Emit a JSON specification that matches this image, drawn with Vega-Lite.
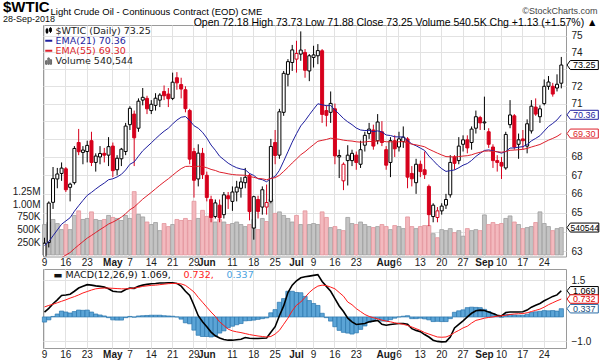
{
"$schema": "https://vega.github.io/schema/vega-lite/v6.json",
"padding": {"left": 3, "top": 0, "right": 1.5, "bottom": 0},
"title": {"text": "$WTIC", "subtitle": "28-Sep-2018", "anchor": "start", "frame": "group", "dx": -40, "dy": 18.5, "offset": 0, "font": "Liberation Sans", "fontSize": 15, "fontWeight": "bold", "color": "#000", "subtitleFont": "Liberation Sans", "subtitleFontSize": 9, "subtitleColor": "#111", "subtitlePadding": 0},
"spacing": 12,
"bounds": "flush",
"resolve": {"scale": {"color": "independent", "stroke": "independent", "fill": "independent", "strokeWidth": "independent", "y": "independent"}, "legend": {"color": "independent", "stroke": "independent", "fill": "independent", "strokeWidth": "independent"}},
"datasets": {
"px": [
{"d":"2018-04-09","o":62.10,"h":63.70,"l":61.80,"c":63.42,"v":600000,"e21":63.30,"e55":62.05,"m":0.20,"s":0.41,"hg":-0.21},
{"d":"2018-04-10","o":63.45,"h":65.60,"l":63.20,"c":65.51,"v":640000,"e21":63.50,"e55":62.17,"m":0.35,"s":0.47,"hg":-0.12},
{"d":"2018-04-11","o":65.55,"h":67.45,"l":65.20,"c":66.82,"v":700000,"e21":63.80,"e55":62.34,"m":0.54,"s":0.52,"hg":0.02},
{"d":"2018-04-12","o":66.80,"h":67.40,"l":66.30,"c":67.07,"v":620000,"e21":64.10,"e55":62.51,"m":0.70,"s":0.58,"hg":0.12},
{"d":"2018-04-13","o":67.10,"h":67.70,"l":66.70,"c":67.39,"v":500000,"e21":64.40,"e55":62.68,"m":0.88,"s":0.64,"hg":0.24},
{"d":"2018-04-16","o":67.35,"h":67.45,"l":66.10,"c":66.22,"v":600000,"e21":64.57,"e55":62.81,"m":0.90,"s":0.70,"hg":0.20},
{"d":"2018-04-17","o":66.35,"h":66.60,"l":65.60,"c":66.52,"v":500000,"e21":64.74,"e55":62.94,"m":0.93,"s":0.77,"hg":0.16},
{"d":"2018-04-18","o":66.60,"h":68.60,"l":66.50,"c":68.47,"v":780000,"e21":65.08,"e55":63.14,"m":1.05,"s":0.83,"hg":0.22},
{"d":"2018-04-19","o":68.80,"h":69.56,"l":68.10,"c":68.29,"v":870000,"e21":65.37,"e55":63.32,"m":1.18,"s":0.90,"hg":0.28},
{"d":"2018-04-20","o":68.25,"h":68.60,"l":67.60,"c":68.38,"v":700000,"e21":65.65,"e55":63.50,"m":1.25,"s":0.98,"hg":0.27},
{"d":"2018-04-23","o":68.30,"h":68.90,"l":67.70,"c":68.64,"v":720000,"e21":65.92,"e55":63.68,"m":1.32,"s":1.04,"hg":0.28},
{"d":"2018-04-24","o":68.90,"h":69.40,"l":67.50,"c":67.70,"v":850000,"e21":66.08,"e55":63.82,"m":1.30,"s":1.10,"hg":0.20},
{"d":"2018-04-25","o":67.70,"h":68.20,"l":67.20,"c":68.05,"v":700000,"e21":66.26,"e55":63.97,"m":1.27,"s":1.15,"hg":0.12},
{"d":"2018-04-26","o":68.00,"h":68.60,"l":67.60,"c":68.19,"v":680000,"e21":66.43,"e55":64.12,"m":1.25,"s":1.17,"hg":0.08},
{"d":"2018-04-27","o":68.20,"h":68.50,"l":67.70,"c":68.10,"v":700000,"e21":66.58,"e55":64.26,"m":1.22,"s":1.18,"hg":0.04},
{"d":"2018-04-30","o":68.10,"h":69.10,"l":67.50,"c":68.57,"v":780000,"e21":66.76,"e55":64.41,"m":1.15,"s":1.18,"hg":-0.03},
{"d":"2018-05-01","o":68.60,"h":68.80,"l":66.90,"c":67.25,"v":740000,"e21":66.81,"e55":64.51,"m":1.05,"s":1.17,"hg":-0.12},
{"d":"2018-05-02","o":67.30,"h":68.10,"l":67.00,"c":67.93,"v":720000,"e21":66.91,"e55":64.63,"m":1.03,"s":1.16,"hg":-0.13},
{"d":"2018-05-03","o":67.90,"h":68.50,"l":67.50,"c":68.43,"v":680000,"e21":67.05,"e55":64.77,"m":1.02,"s":1.15,"hg":-0.13},
{"d":"2018-05-04","o":68.30,"h":69.90,"l":68.10,"c":69.72,"v":780000,"e21":67.29,"e55":64.95,"m":1.12,"s":1.15,"hg":-0.03},
{"d":"2018-05-07","o":69.80,"h":70.85,"l":69.50,"c":70.73,"v":720000,"e21":67.60,"e55":65.16,"m":1.18,"s":1.16,"hg":0.02},
{"d":"2018-05-08","o":70.40,"h":70.60,"l":67.50,"c":69.06,"v":1250000,"e21":67.73,"e55":65.30,"m":1.17,"s":1.18,"hg":-0.01},
{"d":"2018-05-09","o":69.60,"h":71.30,"l":69.40,"c":71.14,"v":800000,"e21":68.04,"e55":65.51,"m":1.25,"s":1.21,"hg":0.04},
{"d":"2018-05-10","o":71.20,"h":71.90,"l":70.90,"c":71.36,"v":750000,"e21":68.34,"e55":65.72,"m":1.30,"s":1.25,"hg":0.05},
{"d":"2018-05-11","o":71.30,"h":71.45,"l":70.40,"c":70.70,"v":650000,"e21":68.56,"e55":65.90,"m":1.33,"s":1.27,"hg":0.06},
{"d":"2018-05-14","o":70.60,"h":71.20,"l":70.40,"c":70.96,"v":600000,"e21":68.78,"e55":66.08,"m":1.36,"s":1.29,"hg":0.07},
{"d":"2018-05-15","o":70.90,"h":71.60,"l":70.60,"c":71.31,"v":640000,"e21":69.01,"e55":66.27,"m":1.37,"s":1.30,"hg":0.07},
{"d":"2018-05-16","o":71.20,"h":71.60,"l":70.80,"c":71.49,"v":480000,"e21":69.23,"e55":66.46,"m":1.39,"s":1.32,"hg":0.07},
{"d":"2018-05-17","o":71.70,"h":72.05,"l":71.20,"c":71.45,"v":620000,"e21":69.43,"e55":66.64,"m":1.39,"s":1.34,"hg":0.05},
{"d":"2018-05-18","o":71.55,"h":71.90,"l":70.80,"c":71.28,"v":560000,"e21":69.60,"e55":66.81,"m":1.40,"s":1.36,"hg":0.04},
{"d":"2018-05-21","o":71.30,"h":72.80,"l":71.20,"c":72.24,"v":600000,"e21":69.84,"e55":67.00,"m":1.40,"s":1.37,"hg":0.03},
{"d":"2018-05-22","o":72.50,"h":72.83,"l":71.80,"c":72.20,"v":700000,"e21":70.06,"e55":67.19,"m":1.37,"s":1.37,"hg":0.00},
{"d":"2018-05-23","o":72.10,"h":72.50,"l":71.30,"c":71.84,"v":680000,"e21":70.22,"e55":67.36,"m":1.26,"s":1.35,"hg":-0.09},
{"d":"2018-05-24","o":71.80,"h":72.00,"l":70.50,"c":70.71,"v":720000,"e21":70.26,"e55":67.48,"m":1.05,"s":1.29,"hg":-0.24},
{"d":"2018-05-25","o":70.60,"h":70.70,"l":67.60,"c":67.88,"v":680000,"e21":70.04,"e55":67.49,"m":0.88,"s":1.16,"hg":-0.28},
{"d":"2018-05-29","o":68.30,"h":68.50,"l":65.80,"c":66.73,"v":1060000,"e21":69.74,"e55":67.46,"m":0.48,"s":1.02,"hg":-0.54},
{"d":"2018-05-30","o":66.80,"h":68.70,"l":66.40,"c":68.21,"v":720000,"e21":69.60,"e55":67.49,"m":0.05,"s":0.80,"hg":-0.75},
{"d":"2018-05-31","o":68.20,"h":68.50,"l":66.80,"c":67.04,"v":880000,"e21":69.37,"e55":67.47,"m":-0.20,"s":0.60,"hg":-0.80},
{"d":"2018-06-01","o":67.00,"h":67.20,"l":65.60,"c":65.81,"v":760000,"e21":69.05,"e55":67.41,"m":-0.40,"s":0.40,"hg":-0.80},
{"d":"2018-06-04","o":65.70,"h":65.90,"l":64.50,"c":64.75,"v":800000,"e21":68.66,"e55":67.32,"m":-0.62,"s":0.20,"hg":-0.82},
{"d":"2018-06-05","o":64.80,"h":65.70,"l":64.70,"c":65.52,"v":650000,"e21":68.37,"e55":67.26,"m":-0.77,"s":0.02,"hg":-0.79},
{"d":"2018-06-06","o":65.40,"h":65.70,"l":64.50,"c":64.73,"v":700000,"e21":68.04,"e55":67.17,"m":-0.86,"s":-0.20,"hg":-0.66},
{"d":"2018-06-07","o":64.90,"h":66.10,"l":64.70,"c":65.95,"v":650000,"e21":67.85,"e55":67.13,"m":-0.92,"s":-0.35,"hg":-0.57},
{"d":"2018-06-08","o":65.90,"h":66.10,"l":65.20,"c":65.74,"v":600000,"e21":67.66,"e55":67.08,"m":-0.95,"s":-0.50,"hg":-0.45},
{"d":"2018-06-11","o":65.60,"h":66.40,"l":65.10,"c":66.10,"v":620000,"e21":67.52,"e55":67.04,"m":-0.95,"s":-0.57,"hg":-0.38},
{"d":"2018-06-12","o":66.10,"h":66.70,"l":65.60,"c":66.36,"v":650000,"e21":67.41,"e55":67.02,"m":-0.93,"s":-0.61,"hg":-0.32},
{"d":"2018-06-13","o":66.30,"h":66.90,"l":65.80,"c":66.64,"v":600000,"e21":67.34,"e55":67.01,"m":-0.91,"s":-0.64,"hg":-0.27},
{"d":"2018-06-14","o":66.60,"h":67.40,"l":66.30,"c":66.89,"v":560000,"e21":67.30,"e55":67.00,"m":-0.84,"s":-0.68,"hg":-0.16},
{"d":"2018-06-15","o":67.00,"h":67.10,"l":64.60,"c":65.06,"v":600000,"e21":67.10,"e55":66.93,"m":-0.87,"s":-0.72,"hg":-0.15},
{"d":"2018-06-18","o":64.20,"h":65.90,"l":63.60,"c":65.85,"v":700000,"e21":66.99,"e55":66.89,"m":-0.88,"s":-0.75,"hg":-0.13},
{"d":"2018-06-19","o":65.70,"h":65.90,"l":64.70,"c":65.07,"v":500000,"e21":66.81,"e55":66.83,"m":-0.88,"s":-0.78,"hg":-0.10},
{"d":"2018-06-20","o":65.30,"h":66.40,"l":64.90,"c":66.22,"v":720000,"e21":66.76,"e55":66.81,"m":-0.87,"s":-0.80,"hg":-0.07},
{"d":"2018-06-21","o":65.30,"h":66.50,"l":64.90,"c":65.54,"v":660000,"e21":66.65,"e55":66.76,"m":-0.86,"s":-0.82,"hg":-0.04},
{"d":"2018-06-22","o":65.60,"h":69.00,"l":65.50,"c":68.58,"v":1100000,"e21":66.83,"e55":66.83,"m":-0.63,"s":-0.80,"hg":0.17},
{"d":"2018-06-25","o":68.80,"h":69.50,"l":67.60,"c":68.08,"v":820000,"e21":66.94,"e55":66.87,"m":-0.40,"s":-0.70,"hg":0.30},
{"d":"2018-06-26","o":68.10,"h":70.70,"l":67.90,"c":70.53,"v":850000,"e21":67.27,"e55":67.00,"m":0.05,"s":-0.55,"hg":0.60},
{"d":"2018-06-27","o":70.50,"h":72.90,"l":70.30,"c":72.76,"v":780000,"e21":67.77,"e55":67.21,"m":0.45,"s":-0.30,"hg":0.75},
{"d":"2018-06-28","o":72.70,"h":73.60,"l":72.00,"c":73.45,"v":720000,"e21":68.29,"e55":67.43,"m":1.00,"s":-0.05,"hg":1.05},
{"d":"2018-06-29","o":73.40,"h":74.45,"l":72.90,"c":74.15,"v":650000,"e21":68.82,"e55":67.67,"m":1.30,"s":0.25,"hg":1.05},
{"d":"2018-07-02","o":73.60,"h":74.70,"l":72.80,"c":73.94,"v":780000,"e21":69.29,"e55":67.89,"m":1.48,"s":0.48,"hg":1.00},
{"d":"2018-07-03","o":73.90,"h":75.27,"l":73.50,"c":74.14,"v":600000,"e21":69.73,"e55":68.12,"m":1.60,"s":0.61,"hg":0.99},
{"d":"2018-07-05","o":74.00,"h":74.20,"l":72.50,"c":72.94,"v":870000,"e21":70.02,"e55":68.29,"m":1.64,"s":0.80,"hg":0.84},
{"d":"2018-07-06","o":72.90,"h":73.90,"l":72.30,"c":73.80,"v":600000,"e21":70.36,"e55":68.49,"m":1.67,"s":1.00,"hg":0.67},
{"d":"2018-07-09","o":73.70,"h":74.40,"l":73.10,"c":73.85,"v":620000,"e21":70.68,"e55":68.68,"m":1.70,"s":1.15,"hg":0.55},
{"d":"2018-07-10","o":73.80,"h":74.50,"l":73.30,"c":74.11,"v":600000,"e21":70.99,"e55":68.87,"m":1.73,"s":1.26,"hg":0.47},
{"d":"2018-07-11","o":74.10,"h":74.20,"l":69.90,"c":70.38,"v":850000,"e21":70.93,"e55":68.92,"m":1.45,"s":1.30,"hg":0.15},
{"d":"2018-07-12","o":70.60,"h":70.90,"l":69.70,"c":70.33,"v":740000,"e21":70.88,"e55":68.97,"m":1.25,"s":1.28,"hg":-0.03},
{"d":"2018-07-13","o":70.50,"h":71.70,"l":69.90,"c":71.01,"v":540000,"e21":70.89,"e55":69.04,"m":1.05,"s":1.22,"hg":-0.17},
{"d":"2018-07-16","o":70.70,"h":71.00,"l":67.60,"c":68.06,"v":560000,"e21":70.63,"e55":69.01,"m":0.75,"s":1.15,"hg":-0.40},
{"d":"2018-07-17","o":68.00,"h":68.40,"l":66.85,"c":68.08,"v":500000,"e21":70.40,"e55":68.98,"m":0.45,"s":1.00,"hg":-0.55},
{"d":"2018-07-18","o":66.70,"h":67.70,"l":66.20,"c":67.60,"v":480000,"e21":70.15,"e55":68.93,"m":0.22,"s":0.85,"hg":-0.63},
{"d":"2018-07-19","o":67.80,"h":68.65,"l":66.45,"c":68.10,"v":740000,"e21":69.96,"e55":68.90,"m":-0.05,"s":0.61,"hg":-0.66},
{"d":"2018-07-20","o":67.80,"h":68.40,"l":67.50,"c":68.20,"v":620000,"e21":69.80,"e55":68.88,"m":-0.20,"s":0.50,"hg":-0.70},
{"d":"2018-07-23","o":68.10,"h":68.30,"l":67.30,"c":67.70,"v":600000,"e21":69.61,"e55":68.84,"m":-0.31,"s":0.34,"hg":-0.65},
{"d":"2018-07-24","o":67.60,"h":68.90,"l":67.40,"c":68.40,"v":650000,"e21":69.50,"e55":68.82,"m":-0.29,"s":0.22,"hg":-0.51},
{"d":"2018-07-25","o":68.65,"h":69.40,"l":68.30,"c":69.20,"v":600000,"e21":69.47,"e55":68.83,"m":-0.27,"s":0.10,"hg":-0.37},
{"d":"2018-07-26","o":69.30,"h":69.90,"l":69.00,"c":69.55,"v":560000,"e21":69.48,"e55":68.86,"m":-0.20,"s":0.02,"hg":-0.22},
{"d":"2018-07-27","o":69.50,"h":69.80,"l":68.40,"c":68.60,"v":540000,"e21":69.40,"e55":68.85,"m":-0.17,"s":-0.03,"hg":-0.14},
{"d":"2018-07-30","o":68.90,"h":70.40,"l":68.70,"c":69.95,"v":560000,"e21":69.45,"e55":68.89,"m":-0.14,"s":-0.08,"hg":-0.06},
{"d":"2018-07-31","o":69.40,"h":70.00,"l":68.60,"c":68.80,"v":600000,"e21":69.39,"e55":68.89,"m":-0.30,"s":-0.13,"hg":-0.17},
{"d":"2018-08-01","o":68.40,"h":68.60,"l":67.30,"c":67.55,"v":560000,"e21":69.22,"e55":68.84,"m":-0.34,"s":-0.17,"hg":-0.17},
{"d":"2018-08-02","o":67.70,"h":69.10,"l":66.90,"c":68.90,"v":500000,"e21":69.19,"e55":68.84,"m":-0.31,"s":-0.20,"hg":-0.11},
{"d":"2018-08-03","o":68.90,"h":69.20,"l":68.00,"c":68.45,"v":580000,"e21":69.12,"e55":68.83,"m":-0.29,"s":-0.24,"hg":-0.05},
{"d":"2018-08-06","o":68.55,"h":69.40,"l":68.30,"c":69.00,"v":560000,"e21":69.11,"e55":68.84,"m":-0.27,"s":-0.27,"hg":0.00},
{"d":"2018-08-07","o":68.85,"h":69.70,"l":68.50,"c":69.10,"v":520000,"e21":69.11,"e55":68.85,"m":-0.27,"s":-0.30,"hg":0.03},
{"d":"2018-08-08","o":69.00,"h":69.10,"l":66.30,"c":66.90,"v":750000,"e21":68.91,"e55":68.78,"m":-0.30,"s":-0.35,"hg":0.05},
{"d":"2018-08-09","o":67.10,"h":67.50,"l":66.40,"c":66.81,"v":560000,"e21":68.72,"e55":68.71,"m":-0.48,"s":-0.41,"hg":-0.07},
{"d":"2018-08-10","o":66.60,"h":67.90,"l":66.00,"c":67.60,"v":520000,"e21":68.62,"e55":68.67,"m":-0.55,"s":-0.48,"hg":-0.07},
{"d":"2018-08-13","o":67.60,"h":67.80,"l":66.90,"c":67.20,"v":560000,"e21":68.49,"e55":68.62,"m":-0.60,"s":-0.55,"hg":-0.05},
{"d":"2018-08-14","o":67.30,"h":68.30,"l":66.80,"c":67.04,"v":580000,"e21":68.36,"e55":68.56,"m":-0.72,"s":-0.64,"hg":-0.08},
{"d":"2018-08-15","o":66.40,"h":66.50,"l":64.30,"c":64.90,"v":580000,"e21":68.05,"e55":68.43,"m":-0.82,"s":-0.70,"hg":-0.12},
{"d":"2018-08-16","o":64.80,"h":65.50,"l":64.50,"c":65.40,"v":420000,"e21":67.81,"e55":68.32,"m":-0.95,"s":-0.76,"hg":-0.19},
{"d":"2018-08-17","o":64.75,"h":65.30,"l":64.50,"c":65.10,"v":340000,"e21":67.56,"e55":68.21,"m":-1.00,"s":-0.82,"hg":-0.18},
{"d":"2018-08-20","o":65.10,"h":65.50,"l":64.90,"c":65.35,"v":500000,"e21":67.36,"e55":68.11,"m":-1.02,"s":-0.83,"hg":-0.19},
{"d":"2018-08-21","o":65.40,"h":66.00,"l":65.20,"c":65.70,"v":480000,"e21":67.21,"e55":68.02,"m":-1.01,"s":-0.82,"hg":-0.19},
{"d":"2018-08-22","o":65.95,"h":68.10,"l":65.80,"c":67.70,"v":520000,"e21":67.25,"e55":68.01,"m":-0.82,"s":-0.75,"hg":-0.07},
{"d":"2018-08-23","o":68.00,"h":68.10,"l":67.30,"c":67.65,"v":440000,"e21":67.29,"e55":68.00,"m":-0.45,"s":-0.64,"hg":0.19},
{"d":"2018-08-24","o":67.80,"h":69.10,"l":67.60,"c":68.60,"v":480000,"e21":67.41,"e55":68.02,"m":-0.30,"s":-0.55,"hg":0.25},
{"d":"2018-08-27","o":68.70,"h":69.20,"l":68.30,"c":68.95,"v":370000,"e21":67.55,"e55":68.05,"m":-0.16,"s":-0.45,"hg":0.29},
{"d":"2018-08-28","o":68.95,"h":69.20,"l":68.20,"c":68.50,"v":520000,"e21":67.64,"e55":68.07,"m":0.00,"s":-0.38,"hg":0.38},
{"d":"2018-08-29","o":68.80,"h":69.70,"l":68.40,"c":69.55,"v":480000,"e21":67.81,"e55":68.12,"m":0.15,"s":-0.25,"hg":0.40},
{"d":"2018-08-30","o":69.60,"h":70.60,"l":69.30,"c":70.25,"v":500000,"e21":68.03,"e55":68.20,"m":0.25,"s":-0.14,"hg":0.39},
{"d":"2018-08-31","o":70.20,"h":70.30,"l":69.50,"c":69.90,"v":480000,"e21":68.20,"e55":68.26,"m":0.28,"s":-0.10,"hg":0.38},
{"d":"2018-09-04","o":69.90,"h":71.40,"l":69.50,"c":69.95,"v":790000,"e21":68.36,"e55":68.32,"m":0.26,"s":-0.05,"hg":0.31},
{"d":"2018-09-05","o":69.40,"h":69.60,"l":68.50,"c":68.70,"v":600000,"e21":68.39,"e55":68.33,"m":0.20,"s":-0.02,"hg":0.22},
{"d":"2018-09-06","o":68.55,"h":68.70,"l":67.40,"c":67.80,"v":640000,"e21":68.34,"e55":68.31,"m":0.14,"s":0.00,"hg":0.14},
{"d":"2018-09-07","o":67.80,"h":68.10,"l":67.20,"c":67.70,"v":600000,"e21":68.28,"e55":68.29,"m":0.07,"s":0.03,"hg":0.04},
{"d":"2018-09-10","o":67.70,"h":68.00,"l":66.80,"c":67.50,"v":620000,"e21":68.21,"e55":68.26,"m":0.04,"s":0.05,"hg":-0.01},
{"d":"2018-09-11","o":67.40,"h":69.40,"l":67.30,"c":69.25,"v":720000,"e21":68.30,"e55":68.30,"m":0.18,"s":0.07,"hg":0.11},
{"d":"2018-09-12","o":69.80,"h":71.20,"l":69.60,"c":70.35,"v":770000,"e21":68.49,"e55":68.37,"m":0.20,"s":0.10,"hg":0.10},
{"d":"2018-09-13","o":70.30,"h":70.40,"l":68.40,"c":68.55,"v":650000,"e21":68.50,"e55":68.38,"m":0.20,"s":0.12,"hg":0.08},
{"d":"2018-09-14","o":68.70,"h":69.30,"l":67.90,"c":68.95,"v":600000,"e21":68.54,"e55":68.40,"m":0.20,"s":0.13,"hg":0.07},
{"d":"2018-09-17","o":69.00,"h":69.50,"l":68.40,"c":68.90,"v":520000,"e21":68.57,"e55":68.42,"m":0.21,"s":0.14,"hg":0.07},
{"d":"2018-09-18","o":68.60,"h":70.10,"l":68.20,"c":69.85,"v":540000,"e21":68.69,"e55":68.47,"m":0.28,"s":0.17,"hg":0.11},
{"d":"2018-09-19","o":69.45,"h":71.20,"l":69.30,"c":70.85,"v":560000,"e21":68.89,"e55":68.55,"m":0.40,"s":0.22,"hg":0.18},
{"d":"2018-09-20","o":70.80,"h":71.30,"l":70.30,"c":70.40,"v":640000,"e21":69.03,"e55":68.62,"m":0.48,"s":0.27,"hg":0.21},
{"d":"2018-09-21","o":70.25,"h":70.90,"l":69.90,"c":70.70,"v":850000,"e21":69.18,"e55":68.69,"m":0.55,"s":0.32,"hg":0.23},
{"d":"2018-09-24","o":71.00,"h":72.40,"l":70.90,"c":72.00,"v":620000,"e21":69.44,"e55":68.81,"m":0.66,"s":0.40,"hg":0.26},
{"d":"2018-09-25","o":72.00,"h":72.60,"l":71.80,"c":72.25,"v":560000,"e21":69.70,"e55":68.93,"m":0.75,"s":0.50,"hg":0.25},
{"d":"2018-09-26","o":72.00,"h":72.20,"l":71.40,"c":71.55,"v":480000,"e21":69.87,"e55":69.03,"m":0.84,"s":0.58,"hg":0.26},
{"d":"2018-09-27","o":71.90,"h":72.70,"l":71.70,"c":72.12,"v":520000,"e21":70.07,"e55":69.14,"m":0.90,"s":0.66,"hg":0.24},
{"d":"2018-09-28","o":72.18,"h":73.73,"l":71.88,"c":73.25,"v":540544,"e21":70.36,"e55":69.30,"m":1.069,"s":0.732,"hg":0.337}
],
"tagsP": [
{"d":"2018-09-28","k":"wtic","val":73.25,"t":"73.25"},
{"d":"2018-09-28","k":"e21","val":70.36,"t":"70.36"},
{"d":"2018-09-28","k":"e55","val":69.30,"t":"69.30"}
],
"tagsV": [
{"d":"2018-09-28","v":540544,"t":"540544"}
],
"tagsM": [
{"d":"2018-09-28","k":"m","val":1.069,"t":"1.069"},
{"d":"2018-09-28","k":"s","val":0.732,"t":"0.732"},
{"d":"2018-09-28","k":"hg","val":0.337,"t":"0.337"}
]
},
"vconcat": [
{
"width": 523,
"height": 231.5,
"data": {"name": "px"},
"transform": [{"window": [{"op": "lag", "field": "c", "as": "pc"}], "sort": [{"field": "d"}]}],
"encoding": {
"x": {"field": "d", "type": "ordinal", "sort": "ascending",
"scale": {"type": "band", "paddingInner": 0.3, "paddingOuter": 0.375, "align": 0},
"axis": {"title": null, "values": ["2018-04-09","2018-04-16","2018-04-23","2018-05-01","2018-05-07","2018-05-14","2018-05-21","2018-05-29","2018-06-01","2018-06-11","2018-06-18","2018-06-25","2018-07-02","2018-07-09","2018-07-16","2018-07-23","2018-08-01","2018-08-06","2018-08-13","2018-08-20","2018-08-27","2018-09-04","2018-09-10","2018-09-17","2018-09-24"],
"labelExpr": "indexof(['2018-05-01','2018-06-01','2018-07-02','2018-08-01','2018-09-04'], datum.value) >= 0 ? ['','Jan','Feb','Mar','Apr','May','Jun','Jul','Aug','Sep'][toNumber(substring(datum.value,5,7))] : '' + toNumber(substring(datum.value,8,10))",
"labelFontWeight": {"condition": {"test": "indexof(['2018-05-01','2018-06-01','2018-07-02','2018-08-01','2018-09-04'], datum.value) >= 0", "value": "bold"}, "value": "normal"},
"labelAngle": 0, "labelOverlap": false, "labelBound": false, "labelFlush": false, "labelPadding": 1, "bandPosition": 0.5, "grid": true, "ticks": false, "domain": false}}
},
"layer": [
{
"layer": [
{"mark": {"type": "bar", "width": {"band": 1.3}, "strokeWidth": 0.8},
"encoding": {
"y": {"field": "v", "type": "quantitative", "scale": {"domain": [-31000, 4540000], "nice": false, "zero": false},
"axis": {"orient": "left", "values": [250000, 500000, 750000, 1000000, 1250000], "grid": false, "ticks": false, "domain": false, "labelPadding": 3,
"labelExpr": "datum.value >= 1000000 ? format(datum.value / 1000000, '.2f') + 'M' : format(datum.value / 1000, 'd') + 'K'",
"title": "Light Crude Oil - Continuous Contract (EOD)  CME", "titleAngle": 0, "titleAlign": "left", "titleBaseline": "alphabetic", "titleX": 7, "titleY": -11, "titleFont": "Liberation Sans", "titleFontSize": 9.5, "titleFontWeight": "normal", "titleColor": "#000"}},
"y2": {"datum": 0},
"fill": {"condition": {"test": "datum.c < datum.pc", "value": "#f3b9be"}, "value": "#c4c4c4"},
"stroke": {"condition": {"test": "datum.c < datum.pc", "value": "#e3939a"}, "value": "#9e9e9e"}
}},
{"data": {"name": "tagsV"},
"mark": {"type": "point", "shape": "M1.15,0L1.8,-0.9L7.5,-0.9L7.5,0.9L1.8,0.9Z", "size": 100, "filled": true, "fill": "#ffffff", "stroke": "#000000", "strokeWidth": 1, "opacity": 1},
"encoding": {"y": {"field": "v", "type": "quantitative"}}},
{"data": {"name": "tagsV"},
"mark": {"type": "text", "dx": 23.5, "align": "center", "baseline": "middle", "font": "Liberation Sans", "fontSize": 8.5, "color": "#000"},
"encoding": {"y": {"field": "v", "type": "quantitative"}, "text": {"field": "t"}}}
]
},
{
"layer": [
{"mark": {"type": "rule", "clip": true, "strokeWidth": 1},
"encoding": {
"y": {"field": "l", "type": "quantitative", "scale": {"type": "log", "domain": [62.74, 75.66], "nice": false, "zero": false},
"axis": {"orient": "right", "values": [63,64,65,66,67,68,69,70,71,72,73,74,75], "format": "d", "labelExpr": "indexof([64, 69, 70, 73], datum.value) >= 0 ? '' : datum.label", "grid": true, "ticks": false, "domain": false, "labelPadding": 5,
"title": "©StockCharts.com", "titleAngle": 0, "titleAlign": "right", "titleBaseline": "alphabetic", "titleX": 31, "titleY": -12, "titleFont": "Liberation Sans", "titleFontSize": 9, "titleFontWeight": "normal", "titleColor": "#444"}},
"y2": {"field": "h"},
"stroke": {"condition": {"test": "datum.c < datum.pc", "value": "#d6001c"}, "value": "#000000"}
}},
{"mark": {"type": "bar", "clip": true, "strokeWidth": 1},
"encoding": {
"y": {"field": "o", "type": "quantitative"},
"y2": {"field": "c"},
"fill": {"condition": [{"test": "datum.c >= datum.o", "value": "#ffffff"}, {"test": "datum.c < datum.pc", "value": "#d6001c"}], "value": "#000000"},
"stroke": {"condition": {"test": "datum.c < datum.pc", "value": "#d6001c"}, "value": "#000000"}
}},
{"transform": [{"fold": ["e21", "e55"], "as": ["k", "val"]}],
"mark": {"type": "line", "clip": true, "strokeWidth": 1},
"encoding": {
"y": {"field": "val", "type": "quantitative"},
"color": {"field": "k", "type": "nominal",
"scale": {"domain": ["wtic", "e21", "e55", "vol"], "range": ["#000000", "#1e1e9e", "#dd1f2b", "#666666"]},
"legend": {"orient": "top-left", "direction": "vertical", "offset": 1, "padding": 0, "title": null, "symbolType": "stroke", "symbolSize": 49, "symbolStrokeWidth": 2, "labelFont": "DejaVu Sans", "labelFontSize": 9.5, "labelOffset": 2, "rowPadding": -2,
"labelExpr": "datum.value === 'wtic' ? '$WTIC (Daily) 73.25' : datum.value === 'e21' ? 'EMA(21) 70.36' : datum.value === 'e55' ? 'EMA(55) 69.30' : 'Volume 540,544'",
"encode": {
"labels": {"update": {"fill": {"signal": "datum.value === 'e21' ? '#1e1e9e' : datum.value === 'e55' ? '#dd1f2b' : '#222222'"}}},
"symbols": {"update": {
"shape": {"signal": "datum.value === 'wtic' ? 'M-0.75,-0.4H-0.25V0.5H-0.75Z M-0.5,-0.8V0.9 M0.25,-0.7H0.75V0.2H0.25Z M0.5,-1V0.6' : datum.value === 'vol' ? 'M-0.9,1V0H-0.5V1Z M-0.25,1V-0.8H0.15V1Z M0.4,1V-0.3H0.8V1Z' : 'stroke'"},
"strokeWidth": {"signal": "datum.value === 'wtic' || datum.value === 'vol' ? 1 : 2"},
"fill": {"signal": "datum.value === 'vol' ? '#888888' : datum.value === 'wtic' ? '#000000' : 'transparent'"}
}}
}}}
}},
{"data": {"name": "tagsP"},
"mark": {"type": "point", "shape": "M1.15,0L1.8,-0.9L7.4,-0.9L7.4,0.9L1.8,0.9Z", "size": 100, "filled": true, "fill": "#ffffff", "strokeWidth": 1, "opacity": 1},
"encoding": {
"y": {"field": "val", "type": "quantitative"},
"stroke": {"field": "k", "type": "nominal", "scale": {"domain": ["wtic", "e21", "e55"], "range": ["#000000", "#1e1e9e", "#dd1f2b"]}, "legend": null}
}},
{"data": {"name": "tagsP"},
"mark": {"type": "text", "dx": 23, "align": "center", "baseline": "middle", "font": "Liberation Sans", "fontSize": 9},
"encoding": {
"y": {"field": "val", "type": "quantitative"},
"text": {"field": "t"},
"fill": {"field": "k", "type": "nominal", "scale": {"domain": ["wtic", "e21", "e55"], "range": ["#000000", "#1e1e9e", "#dd1f2b"]}, "legend": null}
}}
]
}
],
"resolve": {"scale": {"y": "independent"}, "axis": {"y": "independent"}}
},
{
"width": 523,
"height": 79,
"data": {"name": "px"},
"encoding": {
"x": {"field": "d", "type": "ordinal", "sort": "ascending",
"scale": {"type": "band", "paddingInner": 0.3, "paddingOuter": 0.375, "align": 0},
"axis": {"title": null, "values": ["2018-04-09","2018-04-16","2018-04-23","2018-05-01","2018-05-07","2018-05-14","2018-05-21","2018-05-29","2018-06-01","2018-06-11","2018-06-18","2018-06-25","2018-07-02","2018-07-09","2018-07-16","2018-07-23","2018-08-01","2018-08-06","2018-08-13","2018-08-20","2018-08-27","2018-09-04","2018-09-10","2018-09-17","2018-09-24"],
"labelExpr": "indexof(['2018-05-01','2018-06-01','2018-07-02','2018-08-01','2018-09-04'], datum.value) >= 0 ? ['','Jan','Feb','Mar','Apr','May','Jun','Jul','Aug','Sep'][toNumber(substring(datum.value,5,7))] : '' + toNumber(substring(datum.value,8,10))",
"labelFontWeight": {"condition": {"test": "indexof(['2018-05-01','2018-06-01','2018-07-02','2018-08-01','2018-09-04'], datum.value) >= 0", "value": "bold"}, "value": "normal"},
"labelAngle": 0, "labelOverlap": false, "labelBound": false, "labelFlush": false, "labelPadding": 1, "bandPosition": 0.5, "grid": true, "ticks": false, "domain": false}}
},
"layer": [
{"mark": {"type": "bar", "width": {"band": 1.43}, "fill": "#5ba4d6", "stroke": "#2a76ad", "strokeWidth": 0.7},
"encoding": {
"y": {"field": "hg", "type": "quantitative", "scale": {"domain": [-1.27, 1.96], "nice": false, "zero": false},
"axis": {"orient": "right", "values": [-1, -0.5, 0, 0.5, 1, 1.5], "format": ".1f", "labelExpr": "datum.value === 1 || datum.value === 0.5 ? '' : datum.label", "grid": true, "ticks": false, "domain": false, "labelPadding": 5,
"title": "Open 72.18  High 73.73  Low 71.88  Close 73.25  Volume 540.5K  Chg +1.13 (+1.57%) ▲", "titleAngle": 0, "titleAlign": "right", "titleBaseline": "alphabetic", "titleX": 31, "titleY": -244, "titleFont": "Liberation Sans", "titleFontSize": 10.5, "titleFontWeight": "normal", "titleColor": "#000"}},
"y2": {"datum": 0}
}},
{"transform": [{"fold": ["m", "s"], "as": ["k", "val"]}],
"mark": {"type": "line", "clip": true},
"encoding": {
"y": {"field": "val", "type": "quantitative"},
"strokeWidth": {"field": "k", "type": "ordinal", "scale": {"domain": ["m", "s"], "range": [1.6, 1]}, "legend": null},
"color": {"field": "k", "type": "nominal",
"scale": {"domain": ["m", "s", "hg"], "range": ["#000000", "#ff1a1a", "#4aa3df"]},
"legend": {"orient": "top-left", "offset": 1, "padding": 0, "title": null, "direction": "horizontal", "gridAlign": "none", "symbolType": "stroke", "symbolSize": 1, "symbolStrokeWidth": 0, "labelFont": "DejaVu Sans", "labelFontSize": 9.5, "labelOffset": 0, "columnPadding": 3,
"labelExpr": "datum.value === 'm' ? '▬ MACD(12,26,9) 1.069,' : datum.value === 's' ? '0.732,' : '0.337'",
"encode": {
"symbols": {"update": {"opacity": {"value": 0}}},
"labels": {"update": {"fill": {"signal": "datum.value === 'm' ? '#111111' : datum.value === 's' ? '#ff1a1a' : '#4aa3df'"}}}
}}}
}},
{"data": {"name": "tagsM"},
"mark": {"type": "point", "shape": "M1.15,0L1.8,-0.85L7.4,-0.85L7.4,0.85L1.8,0.85Z", "size": 100, "filled": true, "fill": "#ffffff", "strokeWidth": 1, "opacity": 1},
"encoding": {
"y": {"field": "val", "type": "quantitative"},
"stroke": {"field": "k", "type": "nominal", "scale": {"domain": ["m", "s", "hg"], "range": ["#000000", "#e00000", "#2b6ea8"]}, "legend": null}
}},
{"data": {"name": "tagsM"},
"mark": {"type": "text", "dx": 23, "align": "center", "baseline": "middle", "font": "Liberation Sans", "fontSize": 9},
"encoding": {
"y": {"field": "val", "type": "quantitative"},
"text": {"field": "t"},
"fill": {"field": "k", "type": "nominal", "scale": {"domain": ["m", "s", "hg"], "range": ["#000000", "#e00000", "#1b4f80"]}, "legend": null}
}}
]
}
],
"config": {
"font": "Liberation Sans",
"background": "#ffffff",
"view": {"stroke": "#9a9a9a", "strokeWidth": 1},
"axis": {"labelFont": "Liberation Sans", "labelFontSize": 10, "labelColor": "#1a1a1a", "gridColor": "#e2e2e2", "gridWidth": 1}
}
}
